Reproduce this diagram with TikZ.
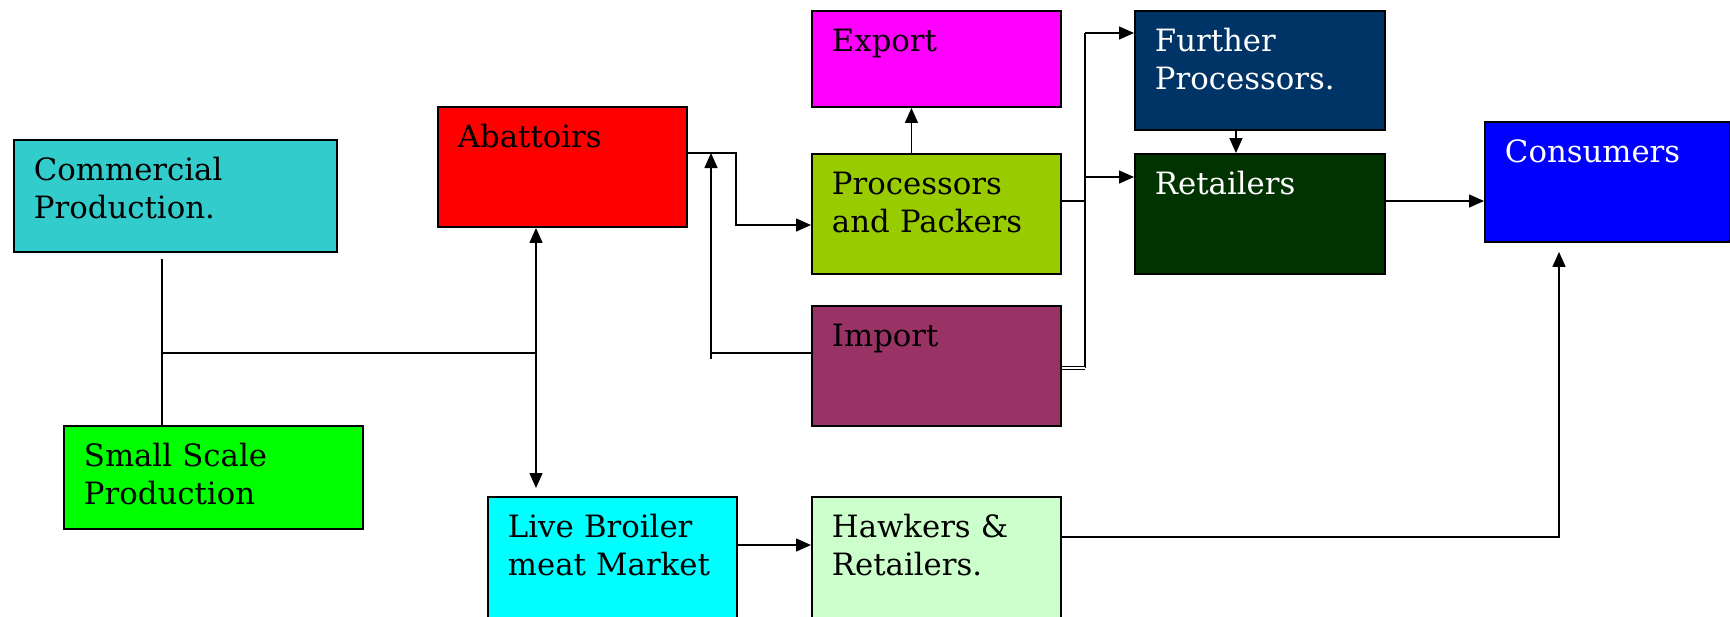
\documentclass[tikz,border=0pt]{standalone}
\usepackage{fontspec}
\setmainfont{DejaVu Serif}
\usetikzlibrary{arrows.meta,calc}
\definecolor{brteal}{HTML}{33CCCC}
\definecolor{brgreen}{HTML}{00FF00}
\definecolor{brred}{HTML}{FF0000}
\definecolor{brmagenta}{HTML}{FF00FF}
\definecolor{brolive}{HTML}{99CC00}
\definecolor{brplum}{HTML}{993366}
\definecolor{brnavy}{HTML}{003366}
\definecolor{brforest}{HTML}{003300}
\definecolor{brblue}{HTML}{0000FF}
\definecolor{brcyan}{HTML}{00FFFF}
\definecolor{brmint}{HTML}{CCFFCC}

\begin{document}
\begin{tikzpicture}[x=0.02cm, y=-0.02cm,
  font=\fontsize{17.5}{21.3}\selectfont,
  stage/.style={draw=black, line width=1.1pt, anchor=north west, align=left,
    inner xsep=0.4cm, inner ysep=0pt, text height=0.82cm,
    text width=4.18cm, text depth=1.58cm},
  flow/.style={line width=0.8pt},
  feed/.style={flow, -{Triangle[length=0.3cm,width=0.26cm]}}]

\useasboundingbox (0,0) rectangle (1730,616);

% Stages of the chain (NW corners in px)
\node[stage, fill=brteal, text width=5.66cm, text depth=1.42cm] (comm) at (13,139) {Commercial\\Production.};
\node[stage, fill=brgreen, text width=5.18cm, text depth=1.24cm] (small) at (63,425) {Small Scale\\Production};
\node[stage, fill=brred] (abat) at (437,106) {Abattoirs};
\node[stage, fill=brmagenta, text depth=1.10cm] (export) at (811,10) {Export};
\node[stage, fill=brolive] (proc) at (811,153) {Processors\\and Packers};
\node[stage, fill=brplum] (import) at (811,305) {Import};
\node[stage, fill=brnavy, text=white, text width=4.2cm, text depth=1.56cm] (further) at (1134,10) {Further\\Processors.};
\node[stage, fill=brforest, text=white, text width=4.2cm] (retail) at (1134,153) {Retailers};
\node[stage, fill=brblue, text=white, text width=4.1cm] (cons) at (1484,121) {Consumers};
\node[stage, fill=brcyan, text depth=1.68cm] (live) at (487,496) {Live Broiler\\meat Market};
\node[stage, fill=brmint, text depth=1.68cm] (hawk) at (811,496) {Hawkers \&\\Retailers.};

% Bends and junctions
\coordinate (jn)   at (162,353);
\coordinate (hub)  at (536,353);
\coordinate (abR)  at (736,153);
\coordinate (abD)  at (736,225);
\coordinate (impB) at (711,359);
\coordinate (busT) at (1085,33);
\coordinate (busR) at (1085,177);
\coordinate (busP) at (1085,201);
\coordinate (busB) at (1085,368);
\coordinate (lvh)  at (736,545);
\coordinate (hwk)  at (1559,537);

% Producers to abattoirs and live market
\draw[flow] (comm.south -| jn) ++(0,6) -- (small.north -| jn);
\draw[flow] (jn) -- (hub);
\draw[feed] (hub) -- (abat.south -| hub);
\draw[feed, shorten >=0.16cm] (hub) -- (live.north -| hub);

% Abattoirs, imports and processing
\draw[feed] (abat.east |- abR) -- (abR) -- (abD) -- (abD -| proc.west);
\draw[flow] (import.west |- hub) -- (impB |- hub);
\draw[feed] (impB) -- (impB |- abR);
\draw[feed] ([xshift=-0.5cm]proc.north) -- ([xshift=-0.5cm]export.south);

% Distribution bus
\draw[flow] (busT) -- (busB);
\draw[flow] (proc.east |- busP) -- (busP);
\draw[flow, double, double distance=0.6pt] (import.east |- busB) -- (busB);
\draw[feed] (busT) -- (busT -| further.west);
\draw[feed] (busR) -- (busR -| retail.west);
\draw[feed] ([xshift=-0.48cm]further.south) -- ([xshift=-0.48cm]retail.north);
\draw[feed] (retail.east |- busP) -- (busP -| cons.west);

% Live market route
\draw[feed] (live.east |- lvh) -- (lvh -| hawk.west);
\draw[feed, shorten >=0.18cm] (hawk.east |- hwk) -- (hwk) -- (hwk |- cons.south);

\end{tikzpicture}
\end{document}
